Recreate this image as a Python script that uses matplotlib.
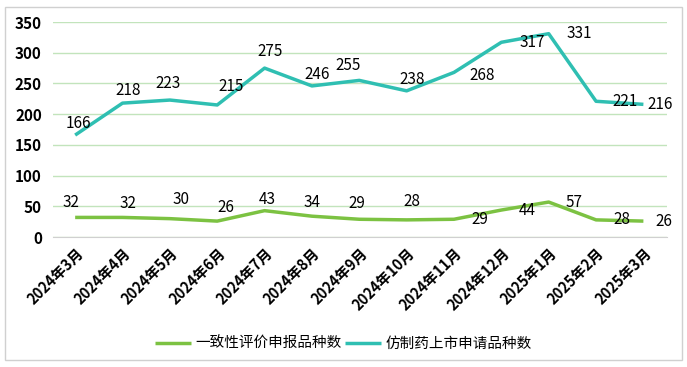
import matplotlib.pyplot as plt
from matplotlib.patches import Rectangle

plt.rcParams['font.family'] = ['Noto Sans CJK SC', 'DejaVu Sans']

months = ['2024年3月', '2024年4月', '2024年5月', '2024年6月', '2024年7月', '2024年8月',
          '2024年9月', '2024年10月', '2024年11月', '2024年12月', '2025年1月',
          '2025年2月', '2025年3月']
generic = [166, 218, 223, 215, 275, 246, 255, 238, 268, 317, 331, 221, 216]
consistency = [32, 32, 30, 26, 43, 34, 29, 28, 29, 44, 57, 28, 26]

teal = '#2fbfb2'
green = '#7cc242'

# label offsets in points (dx, dy), excel-style placement
off_generic = [(2, 8), (4, 9), (-1, 12), (10, 13), (4, 12), (4, 8), (-8, 11), (4, 8),
               (20, -2), (22, 0), (22, 0), (21, 0), (12, 0)]
off_consist = [(-3, 11), (4, 10), (8, 14), (6, 10), (2, 8), (0, 10), (-2, 11), (4, 13),
               (19, 0), (19, 0), (18, 0), (19, 0), (15, 0)]

fig = plt.figure(figsize=(6.87, 3.67), dpi=100)
ax = fig.add_axes([0.077, 0.354, 0.894, 0.586])

x = range(len(months))
ax.plot(x, consistency, color=green, lw=2.5, label='一致性评价申报品种数', solid_capstyle='butt')
ax.plot(x, generic, color=teal, lw=2.5, label='仿制药上市申请品种数', solid_capstyle='butt')

for i, v in enumerate(generic):
    ax.annotate(str(v), (i, v), xytext=off_generic[i], textcoords='offset points',
                ha='center', va='center', fontsize=11, color='black')
for i, v in enumerate(consistency):
    ax.annotate(str(v), (i, v), xytext=off_consist[i], textcoords='offset points',
                ha='center', va='center', fontsize=11, color='black')

ax.set_xlim(-0.47, 12.5)
ax.set_ylim(0, 350)
ax.set_yticks(range(0, 351, 50))
ax.grid(axis='y', color='#c2e4bc', lw=1)
ax.set_axisbelow(True)
for s in ['top', 'right', 'left']:
    ax.spines[s].set_visible(False)
ax.spines['bottom'].set_color('#d0d0d0')
ax.tick_params(length=0)
ax.tick_params(axis='y', pad=8, labelsize=11)
ax.set_xticks(list(x))
ax.set_xticklabels(months, rotation=45, ha='right', rotation_mode='anchor',
                   fontsize=10.5, fontweight='bold')
for t in ax.get_yticklabels():
    t.set_fontweight('bold')
ax.tick_params(axis='x', pad=6)

fig.legend(loc='center', bbox_to_anchor=(0.5, 0.063), ncol=2, frameon=False,
           fontsize=10.5, handlelength=2.5, handletextpad=0.3, columnspacing=0.2)

fig.patches.append(Rectangle((0.007, 0.019), 0.985, 0.962, transform=fig.transFigure,
                             fill=False, edgecolor='#d0d0d0', lw=1))

fig.savefig('out.png', dpi=100)
